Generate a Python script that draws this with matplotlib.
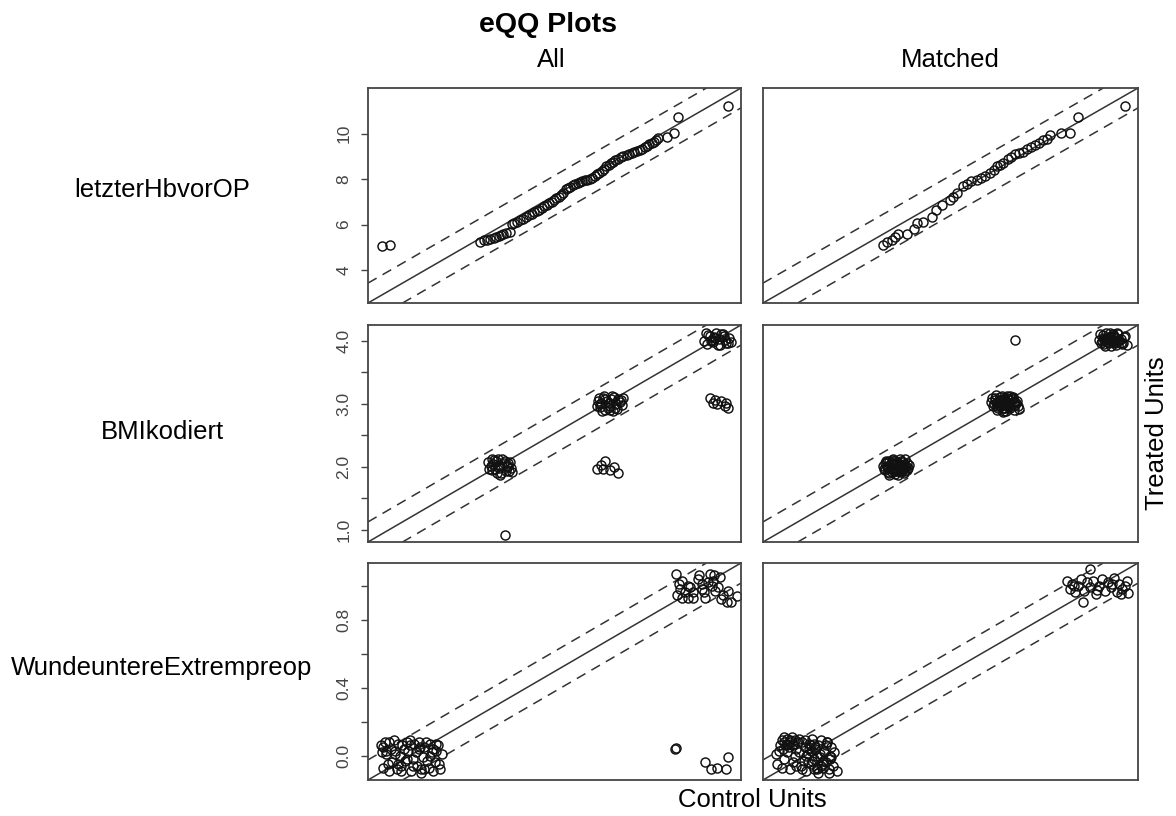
import matplotlib
matplotlib.use("Agg")
import matplotlib.pyplot as plt

plt.rcParams['font.family'] = ['Liberation Sans', 'DejaVu Sans']

# ---------------- labels ----------------
title = "eQQ Plots"
variables = ["letzterHbvorOP", "BMIkodiert", "WundeuntereExtrempreop"]
columns = ["All", "Matched"]
xlabel = "Control Units"
ylabel = "Treated Units"

# ---------------- row 1: letzterHbvorOP ----------------
hb_all_x = [2.90, 3.11, 5.39, 5.48, 5.56, 5.64, 5.73, 5.80, 5.86, 5.92, 5.98, 6.05,
            6.15, 6.20, 6.25, 6.33, 6.40, 6.48, 6.55, 6.62, 6.70, 6.76,
            6.82, 6.88, 6.95, 7.02, 7.08, 7.14, 7.20, 7.26, 7.32, 7.38,
            7.44, 7.50, 7.56, 7.62, 7.68, 7.74, 7.80, 7.86, 7.92, 7.98,
            8.04, 8.10, 8.17, 8.23, 8.29, 8.35, 8.41, 8.47, 8.53, 8.59,
            8.65, 8.71, 8.76, 8.81, 8.88, 8.95, 9.02, 9.10, 9.17, 9.24,
            9.30, 9.37, 9.44, 9.50, 9.56, 9.62, 9.68, 9.74, 9.80, 9.85,
            9.90, 10.12, 10.29, 10.41, 11.68]
hb_all_y = [5.05, 5.10, 5.25, 5.30, 5.33, 5.37, 5.40, 5.44, 5.50, 5.55, 5.58, 5.62,
            5.68, 6.02, 6.05, 6.10, 6.18, 6.25, 6.32, 6.40, 6.48, 6.55,
            6.59, 6.65, 6.72, 6.80, 6.86, 6.93, 7.00, 7.08, 7.15, 7.22,
            7.30, 7.40, 7.55, 7.62, 7.66, 7.72, 7.78, 7.82, 7.86, 7.90,
            7.94, 7.97, 7.99, 8.05, 8.12, 8.20, 8.28, 8.36, 8.45, 8.55,
            8.63, 8.70, 8.76, 8.82, 8.90, 8.95, 9.00, 9.05, 9.10, 9.15,
            9.20, 9.24, 9.27, 9.33, 9.40, 9.46, 9.52, 9.58, 9.64, 9.70,
            9.79, 9.86, 10.01, 10.71, 11.22]
hb_m_x = [5.58, 5.67, 5.79, 5.88, 5.95, 6.17, 6.36, 6.42, 6.59, 6.80,
          6.92, 7.05, 7.26, 7.35, 7.43, 7.60, 7.70, 7.80, 7.95, 8.05,
          8.15, 8.27, 8.37, 8.45, 8.52, 8.60, 8.72, 8.80, 8.90, 9.00,
          9.11, 9.20, 9.30, 9.40, 9.50, 9.60, 9.70, 9.78, 10.07, 10.29,
          10.50, 11.67]
hb_m_y = [5.10, 5.24, 5.32, 5.45, 5.58, 5.58, 5.80, 6.05, 6.12, 6.34,
          6.63, 6.85, 7.08, 7.20, 7.37, 7.69, 7.80, 7.90, 7.95, 8.05,
          8.15, 8.25, 8.40, 8.55, 8.62, 8.69, 8.90, 8.98, 9.08, 9.15,
          9.20, 9.30, 9.40, 9.49, 9.60, 9.70, 9.78, 9.93, 10.01, 10.01,
          10.71, 11.22]

# ---------------- row 2: BMIkodiert ----------------
bmi_all_c2_x = [1.92, 1.95, 1.97, 2.00, 2.02, 2.05, 2.08, 2.10, 2.13, 1.94, 1.99, 2.03, 2.07,
                2.11, 1.93, 1.96, 2.01, 2.04, 2.09, 2.12, 1.98, 2.06, 2.14, 1.95, 2.02, 2.10]
bmi_all_c2_y = [2.08, 1.95, 2.11, 1.90, 2.03, 2.12, 1.93, 2.06, 1.98, 2.01, 2.09, 1.88, 2.10,
                1.94, 1.97, 2.04, 2.13, 1.91, 2.00, 2.08, 1.96, 2.07, 1.92, 2.12, 1.99, 2.02]
bmi_all_c3_x = [2.93, 2.95, 2.98, 3.00, 3.03, 3.06, 3.09, 3.12, 3.15, 2.94, 2.97, 3.01, 3.04, 3.08,
                3.11, 3.14, 2.96, 2.99, 3.02, 3.05, 3.10, 3.13, 2.92, 3.07, 3.00, 3.16, 2.95, 3.04]
bmi_all_c3_y = [3.05, 2.95, 3.10, 2.90, 3.02, 3.12, 2.93, 3.07, 2.98, 3.09, 2.88, 3.04, 2.97, 3.11,
                2.92, 3.06, 3.01, 3.13, 2.94, 3.08, 2.99, 3.03, 2.96, 2.89, 3.07, 3.10, 3.00, 2.91]
bmi_all_c4_x = [3.91, 3.94, 3.96, 3.99, 4.02, 4.05, 4.08, 4.11, 4.14, 3.93, 3.97,
                4.00, 4.04, 4.07, 4.10, 4.13, 3.95, 4.01, 4.06, 4.16, 3.98, 4.09]
bmi_all_c4_y = [4.00, 3.95, 4.08, 3.98, 4.12, 4.03, 4.10, 3.96, 4.05, 4.13, 3.99,
                4.06, 3.93, 4.11, 4.02, 3.97, 4.09, 4.04, 3.94, 3.98, 4.01, 4.07]
bmi_all_off32_x = [2.92, 2.96, 3.00, 3.04, 3.08, 3.12, 2.98]
bmi_all_off32_y = [1.97, 2.03, 2.10, 1.95, 2.00, 1.90, 1.96]
bmi_all_off43_x = [3.96, 3.99, 4.03, 4.07, 4.10, 4.13, 4.01, 4.11]
bmi_all_off43_y = [3.10, 3.02, 2.99, 3.04, 2.97, 2.93, 3.06, 3.01]
bmi_all_out_x = [2.07]
bmi_all_out_y = [0.92]

bmi_m_c2_x = [1.91, 1.93, 1.95, 1.97, 1.99, 2.01, 2.03, 2.05, 2.07, 2.09, 2.11, 2.13, 2.15,
              1.92, 1.94, 1.96, 1.98, 2.00, 2.02, 2.04, 2.06, 2.08, 2.10, 2.12, 2.14,
              1.93, 1.97, 2.01, 2.05, 2.09, 2.13, 1.95, 1.99, 2.03, 2.07, 2.11,
              1.96, 1.98, 2.00, 2.02, 2.04, 2.06, 2.08, 2.10, 1.97, 2.01, 2.05, 2.09,
              1.99, 2.03, 2.07, 1.95, 2.11, 2.00, 2.04, 2.08]
bmi_m_c2_y = [2.02, 1.95, 2.08, 1.90, 2.11, 1.98, 2.05, 1.88, 2.12, 2.00, 1.93, 2.07, 2.03,
              1.97, 2.10, 1.92, 2.04, 2.13, 1.89, 2.06, 1.96, 2.09, 1.91, 2.01, 1.99,
              2.06, 1.87, 2.10, 1.94, 2.08, 1.95, 2.00, 1.92, 2.03, 1.99, 2.12,
              2.00, 1.96, 2.04, 1.93, 2.07, 2.01, 1.95, 2.05, 2.09, 1.98, 2.02, 1.97,
              2.06, 1.94, 2.03, 2.01, 1.99, 1.96, 2.08, 1.92]
bmi_m_c3_x = [2.90, 2.92, 2.94, 2.96, 2.98, 3.00, 3.02, 3.04, 3.06, 3.08, 3.10, 3.12, 3.14, 3.16,
              2.91, 2.93, 2.95, 2.97, 2.99, 3.01, 3.03, 3.05, 3.07, 3.09, 3.11, 3.13, 3.15,
              2.94, 2.98, 3.02, 3.06, 3.10, 2.96, 3.00, 3.04, 3.08,
              2.95, 2.97, 2.99, 3.01, 3.03, 3.05, 3.07, 3.09, 3.11, 2.98, 3.02, 3.06,
              3.00, 3.04, 3.08, 2.96, 3.12, 3.01, 3.05]
bmi_m_c3_y = [3.03, 2.96, 3.10, 2.91, 3.06, 3.13, 2.88, 3.00, 3.08, 2.94, 3.11, 2.98, 3.04, 2.92,
              3.09, 2.99, 3.14, 2.93, 3.05, 2.87, 3.02, 3.12, 2.95, 3.07, 2.90, 3.01, 2.97,
              3.06, 3.11, 2.93, 3.00, 3.09, 2.97, 3.04, 2.89, 3.13,
              3.01, 3.05, 2.97, 3.08, 2.94, 3.02, 3.06, 2.99, 3.03, 2.96, 3.07, 2.95,
              3.00, 3.04, 2.98, 3.03, 3.01, 2.94, 3.09]
bmi_m_c4_x = [3.89, 3.91, 3.93, 3.95, 3.97, 3.99, 4.01, 4.03, 4.05, 4.07, 4.09, 4.11, 4.13, 4.15,
              3.90, 3.92, 3.94, 3.96, 3.98, 4.00, 4.02, 4.04, 4.06, 4.08, 4.10, 4.12,
              3.94, 3.98, 4.02, 4.06,
              3.93, 3.95, 3.97, 3.99, 4.01, 4.03, 4.05, 4.07, 4.09, 3.96, 4.00, 4.04]
bmi_m_c4_y = [4.02, 3.96, 4.09, 3.92, 4.05, 4.12, 3.99, 4.07, 3.94, 4.11, 4.03, 3.97, 4.08, 3.93,
              4.10, 4.00, 3.95, 4.13, 4.04, 3.91, 4.08, 3.98, 4.12, 4.01, 3.95, 4.06,
              4.03, 3.97, 4.10, 4.00,
              4.04, 4.01, 3.98, 4.06, 4.02, 3.99, 4.05, 4.01, 3.97, 4.03, 4.07, 3.96]
bmi_m_out_x = [3.12]
bmi_m_out_y = [4.02]

# ---------------- row 3: WundeuntereExtrempreop ----------------
wu_all_low_x = [-0.10, -0.09, -0.08, -0.07, -0.06, -0.05, -0.04, -0.03, -0.02, -0.01, 0.00,
                0.01, 0.02, 0.03, 0.04, 0.05, 0.06, 0.07, 0.08, 0.09, 0.10, 0.11,
                -0.095, -0.085, -0.075, -0.065, -0.055, -0.045, -0.035, -0.025, -0.015, -0.005,
                0.005, 0.015, 0.025, 0.035, 0.045, 0.055, 0.065, 0.075, 0.085, 0.095, 0.105,
                -0.09, -0.07, -0.05, -0.03, -0.01, 0.01, 0.03, 0.05, 0.07, 0.09,
                -0.08, -0.04, 0.00, 0.04, 0.08]
wu_all_low_y = [0.06, -0.07, 0.03, 0.08, -0.04, 0.01, 0.07, -0.09, 0.04, -0.02, 0.09,
                -0.06, 0.02, 0.08, -0.08, 0.05, -0.03, 0.07, -0.09, 0.03, -0.05, 0.01,
                0.02, 0.08, -0.05, 0.04, 0.09, -0.08, 0.00, 0.06, -0.03, 0.03,
                -0.09, 0.07, -0.06, 0.05, -0.01, 0.08, -0.07, 0.02, -0.04, 0.06, -0.08,
                0.05, -0.09, 0.03, -0.06, 0.08, -0.02, 0.04, -0.08, 0.00, 0.07,
                0.01, -0.05, 0.06, -0.10, 0.04]
wu_all_high_x = [0.91, 0.92, 0.925, 0.915, 0.93, 0.94, 0.95, 0.97, 0.96, 0.985,
                 0.99, 1.00, 1.005, 1.01, 1.02, 1.027, 1.033, 1.038, 1.045, 1.055,
                 1.06, 1.072, 1.084, 1.10, 1.118, 0.93, 0.97, 1.00, 1.04, 1.065, 0.95, 1.09]
wu_all_high_y = [1.07, 1.01, 0.98, 0.945, 0.925, 0.96, 1.00, 0.925, 0.99, 1.04,
                 1.06, 1.01, 0.965, 0.93, 1.02, 1.07, 1.00, 1.03, 0.97, 0.99,
                 1.05, 0.945, 0.906, 0.906, 0.94, 1.03, 0.96, 0.98, 1.06, 0.92, 0.93, 0.97]
wu_all_off_x = [0.907, 0.909, 1.01, 1.03, 1.05, 1.08, 1.09]
wu_all_off_y = [0.04, 0.045, -0.04, -0.08, -0.07, -0.08, -0.01]

wu_m_low_x = [-0.085, -0.08, -0.075, -0.07, -0.065, -0.06, -0.055, -0.05, -0.045, -0.04,
              -0.035, -0.03, -0.025, -0.02,
              -0.10, -0.095, -0.09, -0.08, -0.07, -0.06, -0.05, -0.04, -0.035, -0.03,
              -0.02, -0.015, -0.01, -0.005, 0.00, 0.005, 0.01, 0.015, 0.02, 0.025,
              0.03, 0.035, 0.04, 0.045, 0.05, 0.055, 0.06, 0.065, 0.07, 0.075,
              0.08, 0.085, 0.09, 0.095, 0.10, 0.11, -0.01, 0.00, 0.01, 0.02,
              0.03, 0.04, 0.05, 0.06, 0.07, 0.08, 0.09, 0.015, 0.045, 0.075,
              0.005, 0.025, 0.035, 0.055, 0.065, 0.085, 0.02, 0.04, 0.06, 0.03,
              -0.07, -0.06, -0.05, -0.04]
wu_m_low_y = [0.06, 0.09, 0.04, 0.11, 0.07, 0.10, 0.05, 0.08, 0.11, 0.06,
              0.09, 0.04, 0.08, 0.10,
              0.01, -0.05, 0.03, -0.07, -0.02, 0.02, -0.08, -0.04, 0.00, -0.06,
              0.02, -0.06, 0.08, -0.03, 0.05, -0.09, 0.01, 0.07, -0.05, 0.10,
              -0.02, 0.04, -0.08, 0.06, -0.01, 0.09, -0.07, 0.03, -0.04, 0.08,
              -0.10, 0.00, 0.05, -0.06, 0.02, -0.09, -0.08, 0.09, -0.04, 0.03,
              0.07, -0.07, 0.01, -0.03, 0.06, -0.08, -0.01, 0.04, -0.10, 0.08,
              0.00, -0.03, 0.05, -0.06, 0.02, -0.02, 0.06, 0.00, -0.05, -0.08,
              0.08, 0.06, 0.09, 0.07]
wu_m_high_x = [0.89, 0.90, 0.91, 0.92, 0.93, 0.94, 0.95, 0.96, 0.97, 0.98,
               0.99, 1.00, 1.01, 1.02, 1.03, 1.04, 1.05, 1.06, 1.07, 1.08,
               1.09, 1.095, 0.97, 0.946, 1.099, 0.915, 0.995, 1.045, 1.075]
wu_m_high_y = [1.03, 0.98, 1.01, 0.96, 1.00, 1.04, 0.97, 1.02, 0.99, 1.03,
               0.95, 1.00, 1.04, 0.97, 1.02, 0.99, 1.045, 0.96, 1.01, 0.98,
               1.00, 1.03, 1.10, 0.906, 0.956, 1.00, 0.975, 1.01, 0.95]

# ---------------- axis settings ----------------
row_limits = [(2.55, 12.0), (0.81, 4.25), (-0.143, 1.133)]
row_ticks = [[4, 6, 8, 10],
             [1.0, 1.5, 2.0, 2.5, 3.0, 3.5, 4.0],
             [0.0, 0.2, 0.4, 0.6, 0.8, 1.0]]
row_ticklabels = [["4", "6", "8", "10"],
                  ["1.0", "", "2.0", "", "3.0", "", "4.0"],
                  ["0.0", "", "0.4", "", "0.8", ""]]

panels = [
    [[(hb_all_x, hb_all_y)], [(hb_m_x, hb_m_y)]],
    [[(bmi_all_c2_x, bmi_all_c2_y), (bmi_all_c3_x, bmi_all_c3_y), (bmi_all_c4_x, bmi_all_c4_y),
      (bmi_all_off32_x, bmi_all_off32_y), (bmi_all_off43_x, bmi_all_off43_y),
      (bmi_all_out_x, bmi_all_out_y)],
     [(bmi_m_c2_x, bmi_m_c2_y), (bmi_m_c3_x, bmi_m_c3_y), (bmi_m_c4_x, bmi_m_c4_y),
      (bmi_m_out_x, bmi_m_out_y)]],
    [[(wu_all_low_x, wu_all_low_y), (wu_all_high_x, wu_all_high_y), (wu_all_off_x, wu_all_off_y)],
     [(wu_m_low_x, wu_m_low_y), (wu_m_high_x, wu_m_high_y)]],
]

W, H = 1176, 816
fig = plt.figure(figsize=(W / 100, H / 100), dpi=100)

col_px = [(368, 741), (763, 1138)]
row_px = [(88, 303), (325, 542), (563, 780)]
line_col = "#333333"
frame_col = "#444444"

for r in range(3):
    lo, hi = row_limits[r]
    off = 0.1 * (hi - lo) / 1.08
    for c in range(2):
        x0, x1 = col_px[c]
        y0, y1 = row_px[r]
        ax = fig.add_axes([x0 / W, 1 - y1 / H, (x1 - x0) / W, (y1 - y0) / H])
        ax.set_xlim(lo, hi)
        ax.set_ylim(lo, hi)
        ax.axline((lo, lo), slope=1, color=line_col, lw=1.1)
        for sgn in (1, -1):
            ax.axline((lo, lo + sgn * off), slope=1, color=line_col, lw=1.1,
                      dashes=(6.5, 4.5))
        for xs, ys in panels[r][c]:
            assert len(xs) == len(ys)
            ax.plot(xs, ys, linestyle="none", marker="o", ms=6.5, mfc="none",
                    mec="#111111", mew=1.05)
        ax.set_xticks([])
        for sp in ax.spines.values():
            sp.set_color(frame_col)
            sp.set_linewidth(1.3)
        if c == 0:
            ax.set_yticks(row_ticks[r])
            ax.set_yticklabels(row_ticklabels[r], rotation=90, va="center")
            ax.tick_params(axis="y", length=5, width=1.0, color=frame_col,
                           labelsize=12.5, pad=7, labelcolor="#444444")
        else:
            ax.set_yticks([])

# text
fig.text(548 / W, 1 - 25 / H, title, ha="center", va="center", fontsize=20.5,
         fontweight="bold")
fig.text(551 / W, 1 - 60 / H, columns[0], ha="center", va="center", fontsize=18.5)
fig.text(950 / W, 1 - 60 / H, columns[1], ha="center", va="center", fontsize=18.5)
row_centers = [190, 432, 668]
for name, yc in zip(variables, row_centers):
    fig.text(162 / W, 1 - yc / H, name, ha="center", va="center", fontsize=18.5)
fig.text(752 / W, 1 - 800 / H, xlabel, ha="center", va="center", fontsize=18.5)
fig.text(1157 / W, 1 - 433 / H, ylabel, ha="center", va="center", fontsize=18.5,
         rotation=90)

fig.savefig("out.png", dpi=100)
